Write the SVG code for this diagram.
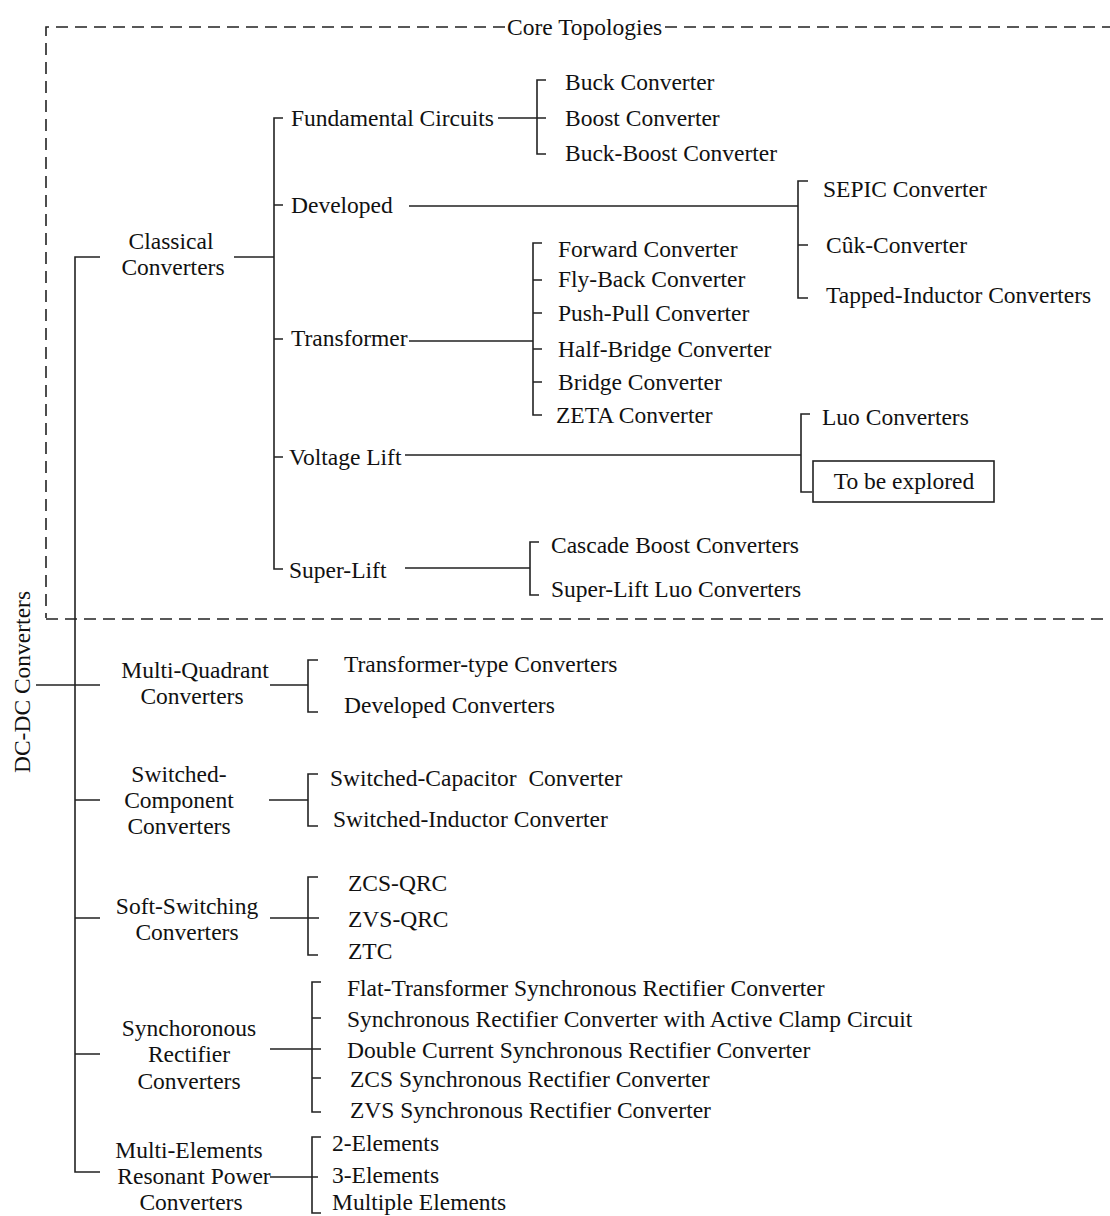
<svg xmlns="http://www.w3.org/2000/svg" width="1110" height="1216" viewBox="0 0 1110 1216">
<style>
.t{font-family:"Liberation Serif","Times New Roman",serif;font-size:23.5px;fill:#111;dominant-baseline:central;white-space:pre}
.m{text-anchor:middle}
.c{stroke:#222;stroke-width:1.6;fill:none}
.d{stroke:#222;stroke-width:1.6;fill:none;stroke-dasharray:12 7}
</style>
<rect width="1110" height="1216" fill="#fff"/>
<g id="core-topologies-region">
<path class="d" d="M505,27 H46 V618"/>
<path class="d" d="M665,27 H1110"/>
<path class="d" d="M46,619 H1110"/>
<text class="t" x="507" y="27">Core Topologies</text>
</g>
<g id="connectors">
<path class="c" d="M36,685 H100"/>
<path class="c" d="M100,257 H75 V1172 H100"/>
<path class="c" d="M75,800 H100 M75,918 H100 M75,1054 H100"/>
<path class="c" d="M234,257 H274"/>
<path class="c" d="M283,118 H274 V569 H283 M274,205 H283 M274,339 H283 M274,457 H283"/>
<path class="c" d="M498,118 H546 M546,80 H537 V154 H546"/>
<path class="c" d="M409,206 H798 M808,181 H798 V298 H808 M798,245 H808"/>
<path class="c" d="M409,341 H533 M542,243 H533 V415 H542 M533,280 H542 M533,313 H542 M533,349 H542 M533,382 H542"/>
<path class="c" d="M405,455 H801 M810,414 H801 V492 H812"/>
<path class="c" d="M405,568 H530 M539,542 H530 V595 H539"/>
<path class="c" d="M270,685 H308 M318,660 H308 V712 H318"/>
<path class="c" d="M269,800 H308 M318,774 H308 V826 H318"/>
<path class="c" d="M270,918 H319 M318,877 H308 V955 H318"/>
<path class="c" d="M270,1049 H321 M321,982 H312 V1112 H321 M312,1018 H321 M312,1078 H321"/>
<path class="c" d="M270,1177 H318 M321,1137 H312 V1213 H321"/>
</g>
<g id="root"><text class="t m" transform="translate(22,682) rotate(-90)">DC-DC Converters</text></g>
<g id="classical"><text class="t m" x="171" y="241">Classical</text><text class="t m" x="173" y="267">Converters</text></g>
<g id="fundamental"><text class="t" x="291" y="118">Fundamental Circuits</text></g>
<g id="buck"><text class="t" x="565" y="82">Buck Converter</text></g>
<g id="boost"><text class="t" x="565" y="118">Boost Converter</text></g>
<g id="buck-boost"><text class="t" x="565" y="153">Buck-Boost Converter</text></g>
<g id="developed"><text class="t" x="291" y="205">Developed</text></g>
<g id="sepic"><text class="t" x="823" y="189">SEPIC Converter</text></g>
<g id="cuk"><text class="t" x="826" y="245">Cûk-Converter</text></g>
<g id="tapped"><text class="t" x="826" y="295">Tapped-Inductor Converters</text></g>
<g id="transformer"><text class="t" x="291" y="338">Transformer</text></g>
<g id="forward"><text class="t" x="558" y="249">Forward Converter</text></g>
<g id="flyback"><text class="t" x="558" y="279">Fly-Back Converter</text></g>
<g id="pushpull"><text class="t" x="558" y="313">Push-Pull Converter</text></g>
<g id="halfbridge"><text class="t" x="558" y="349">Half-Bridge Converter</text></g>
<g id="bridge"><text class="t" x="558" y="382">Bridge Converter</text></g>
<g id="zeta"><text class="t" x="556" y="415">ZETA Converter</text></g>
<g id="voltage-lift"><text class="t" x="289" y="457">Voltage Lift</text></g>
<g id="luo"><text class="t" x="822" y="417">Luo Converters</text></g>
<g id="explore"><rect x="813" y="461" width="181" height="41" fill="none" stroke="#222" stroke-width="1.6"/><text class="t m" x="904" y="481">To be explored</text></g>
<g id="super-lift"><text class="t" x="289" y="570">Super-Lift</text></g>
<g id="cascade"><text class="t" x="551" y="545">Cascade Boost Converters</text></g>
<g id="sl-luo"><text class="t" x="551" y="589">Super-Lift Luo Converters</text></g>
<g id="multi-quadrant"><text class="t m" x="195" y="670">Multi-Quadrant</text><text class="t m" x="192" y="696">Converters</text></g>
<g id="transformer-type"><text class="t" x="344" y="664">Transformer-type Converters</text></g>
<g id="developed-conv"><text class="t" x="344" y="705">Developed Converters</text></g>
<g id="switched-component"><text class="t m" x="179" y="774">Switched-</text><text class="t m" x="179" y="800">Component</text><text class="t m" x="179" y="826">Converters</text></g>
<g id="switched-cap"><text class="t" x="330" y="778">Switched-Capacitor  Converter</text></g>
<g id="switched-ind"><text class="t" x="333" y="819">Switched-Inductor Converter</text></g>
<g id="soft-switching"><text class="t m" x="187" y="906">Soft-Switching</text><text class="t m" x="187" y="932">Converters</text></g>
<g id="zcs-qrc"><text class="t" x="348" y="883">ZCS-QRC</text></g>
<g id="zvs-qrc"><text class="t" x="348" y="919">ZVS-QRC</text></g>
<g id="ztc"><text class="t" x="348" y="951">ZTC</text></g>
<g id="synchronous"><text class="t m" x="189" y="1028">Synchoronous</text><text class="t m" x="189" y="1054">Rectifier</text><text class="t m" x="189" y="1081">Converters</text></g>
<g id="flat"><text class="t" x="347" y="988">Flat-Transformer Synchronous Rectifier Converter</text></g>
<g id="active-clamp"><text class="t" x="347" y="1019">Synchronous Rectifier Converter with Active Clamp Circuit</text></g>
<g id="double-current"><text class="t" x="347" y="1050">Double Current Synchronous Rectifier Converter</text></g>
<g id="zcs-sr"><text class="t" x="350" y="1079">ZCS Synchronous Rectifier Converter</text></g>
<g id="zvs-sr"><text class="t" x="350" y="1110">ZVS Synchronous Rectifier Converter</text></g>
<g id="multi-elements"><text class="t m" x="189" y="1150">Multi-Elements</text><text class="t m" x="194" y="1176">Resonant Power</text><text class="t m" x="191" y="1202">Converters</text></g>
<g id="two-el"><text class="t" x="332" y="1143">2-Elements</text></g>
<g id="three-el"><text class="t" x="332" y="1175">3-Elements</text></g>
<g id="multiple-el"><text class="t" x="332" y="1202">Multiple Elements</text></g>
</svg>
